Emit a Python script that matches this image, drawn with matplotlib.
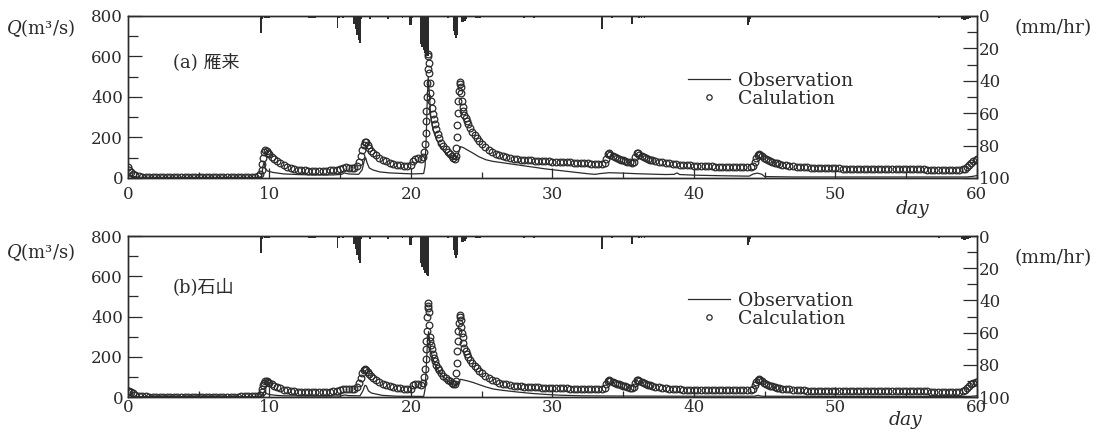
import numpy as np
import matplotlib
matplotlib.use("Agg")
import matplotlib.pyplot as plt
from matplotlib.ticker import MultipleLocator

plt.rcParams['font.family'] = ['DejaVu Serif', 'Noto Sans CJK JP']
plt.rcParams['mathtext.fontset'] = 'dejavuserif'

# simulation output times (day) shared by both stations
calc_day = [
    0.0, 0.1, 0.2, 0.35, 0.5, 0.75, 1.0, 1.25,
    1.5, 1.75, 2.0, 2.25, 2.5, 2.75, 3.0, 3.25, 3.5, 3.75,
    4.0, 4.25, 4.5, 4.75, 5.0, 5.25, 5.5, 5.75, 6.0, 6.25,
    6.5, 6.75, 7.0, 7.25, 7.5, 7.75, 8.0, 8.25, 8.5, 8.75,
    9.0, 9.2, 9.35, 9.45, 9.5, 9.55, 9.6, 9.7, 9.8, 9.9,
    10.0, 10.15, 10.3, 10.5, 10.75, 11.0, 11.25, 11.5, 11.75, 12.0,
    12.25, 12.5, 12.75, 13.0, 13.25, 13.5, 13.75, 14.0, 14.25, 14.5,
    14.75, 15.0, 15.2, 15.4, 15.6, 15.8, 16.0, 16.2, 16.35, 16.45,
    16.55, 16.65, 16.75, 16.85, 16.95, 17.05, 17.2, 17.35, 17.5, 17.75,
    18.0, 18.25, 18.5, 18.75, 19.0, 19.25, 19.5, 19.75, 20.0, 20.15,
    20.3, 20.5, 20.7, 20.85, 20.95, 21.0, 21.03, 21.06, 21.09, 21.12,
    21.15, 21.18, 21.21, 21.24, 21.27, 21.3, 21.33, 21.37, 21.42, 21.48,
    21.55, 21.62, 21.7, 21.8, 21.9, 22.0, 22.15, 22.3, 22.45, 22.6,
    22.75, 22.9, 23.0, 23.1, 23.15, 23.2, 23.24, 23.28, 23.32, 23.36,
    23.4, 23.44, 23.48, 23.52, 23.56, 23.6, 23.65, 23.7, 23.78, 23.86,
    23.95, 24.05, 24.2, 24.35, 24.5, 24.65, 24.8, 25.0, 25.25, 25.5,
    25.75, 26.0, 26.25, 26.5, 26.75, 27.0, 27.25, 27.5, 27.75, 28.0,
    28.25, 28.5, 28.75, 29.0, 29.25, 29.5, 29.75, 30.0, 30.25, 30.5,
    30.75, 31.0, 31.25, 31.5, 31.75, 32.0, 32.25, 32.5, 32.75, 33.0,
    33.25, 33.5, 33.7, 33.8, 33.9, 34.0, 34.1, 34.25, 34.4, 34.55,
    34.7, 34.85, 35.0, 35.15, 35.3, 35.45, 35.6, 35.75, 35.85, 35.95,
    36.05, 36.15, 36.3, 36.45, 36.6, 36.75, 36.9, 37.05, 37.25, 37.5,
    37.75, 38.0, 38.25, 38.5, 38.75, 39.0, 39.25, 39.5, 39.75, 40.0,
    40.25, 40.5, 40.75, 41.0, 41.25, 41.5, 41.75, 42.0, 42.25, 42.5,
    42.75, 43.0, 43.25, 43.5, 43.75, 44.0, 44.15, 44.3, 44.4, 44.5,
    44.6, 44.7, 44.8, 44.95, 45.1, 45.25, 45.4, 45.55, 45.7, 45.85,
    46.0, 46.25, 46.5, 46.75, 47.0, 47.25, 47.5, 47.75, 48.0, 48.25,
    48.5, 48.75, 49.0, 49.25, 49.5, 49.75, 50.0, 50.25, 50.5, 50.75,
    51.0, 51.25, 51.5, 51.75, 52.0, 52.25, 52.5, 52.75, 53.0, 53.25,
    53.5, 53.75, 54.0, 54.25, 54.5, 54.75, 55.0, 55.25, 55.5, 55.75,
    56.0, 56.25, 56.5, 56.75, 57.0, 57.25, 57.5, 57.75, 58.0, 58.25,
    58.5, 58.75, 59.0, 59.15, 59.3, 59.45, 59.6, 59.75, 59.9, 60.0,
]

# calculated discharge (m3/s), (a) Kariki
calc_a_q = [
    55, 40, 30, 20, 14, 8, 5, 4,
    3, 3, 3, 3, 3, 3, 3, 3, 3, 3,
    3, 3, 3, 3, 3, 3, 3, 3, 3, 3,
    3, 3, 3, 3, 3, 3, 4, 4, 4, 4,
    5, 10, 20, 40, 70, 100, 130, 140, 135, 125,
    118, 105, 95, 85, 72, 62, 54, 48, 44, 40,
    38, 37, 36, 35, 35, 35, 36, 36, 37, 38,
    40, 42, 50, 52, 50, 47, 48, 60, 80, 110,
    140, 165, 180, 178, 165, 150, 135, 122, 112, 100,
    90, 82, 76, 70, 66, 62, 60, 60, 62, 85,
    95, 98, 95, 105, 130, 170, 220, 280, 330, 400,
    470, 540, 610, 600, 570, 520, 470, 420, 380, 345,
    315, 290, 265, 240, 215, 195, 175, 158, 143, 130,
    118, 108, 100, 95, 110, 150, 200, 260, 320, 380,
    430, 465, 475, 450, 420, 380, 350, 330, 310, 295,
    280, 265, 245, 228, 210, 195, 182, 168, 152, 140,
    128, 120, 113, 107, 102, 98, 95, 93, 91, 90,
    88, 87, 86, 85, 84, 83, 82, 80, 80, 79,
    78, 78, 77, 76, 75, 74, 73, 72, 71, 70,
    70, 70, 75, 95, 118, 122, 115, 108, 102, 97,
    93, 90, 87, 84, 80, 77, 76, 80, 105, 125,
    122, 115, 108, 102, 98, 94, 90, 87, 84, 80,
    77, 74, 72, 70, 68, 66, 64, 63, 62, 61,
    60, 60, 59, 58, 57, 56, 56, 56, 55, 55,
    55, 55, 55, 55, 55, 55, 60, 80, 100, 112,
    118, 115, 108, 100, 94, 88, 84, 80, 76, 72,
    69, 65, 62, 60, 58, 56, 55, 54, 52, 51,
    50, 50, 49, 49, 48, 48, 47, 47, 46, 46,
    46, 45, 45, 45, 45, 45, 44, 44, 44, 44,
    44, 43, 43, 43, 43, 43, 43, 42, 42, 42,
    42, 42, 41, 40, 40, 40, 40, 40, 40, 40,
    40, 40, 42, 45, 55, 65, 75, 85, 90, 92,
]

# calculated discharge (m3/s), (b) Ishiyama
calc_b_q = [
    30, 28, 24, 18, 12, 7, 4, 3,
    2, 2, 2, 2, 2, 2, 2, 2, 2, 2,
    2, 2, 2, 2, 2, 2, 2, 2, 2, 2,
    2, 2, 2, 2, 2, 2, 3, 3, 3, 3,
    4, 6, 12, 25, 42, 58, 70, 80, 78, 74,
    70, 63, 57, 50, 43, 37, 33, 30, 28, 27,
    26, 26, 26, 26, 26, 26, 26, 26, 27, 28,
    30, 33, 40, 42, 41, 38, 40, 50, 70, 95,
    120, 135, 140, 135, 125, 115, 102, 92, 84, 73,
    65, 58, 53, 49, 46, 43, 41, 40, 42, 58,
    65, 66, 62, 70, 100, 140, 190, 240, 280, 330,
    400, 440, 465, 450, 420, 360, 300, 280, 260, 240,
    215, 195, 178, 160, 145, 132, 118, 105, 95, 86,
    78, 72, 67, 65, 80, 120, 170, 230, 280, 330,
    370, 400, 405, 385, 350, 320, 300, 270, 245, 228,
    215, 200, 185, 170, 155, 142, 130, 118, 105, 95,
    86, 78, 72, 67, 63, 60, 57, 55, 53, 52,
    51, 50, 49, 48, 47, 46, 46, 45, 44, 44,
    43, 43, 42, 42, 41, 41, 40, 40, 39, 39,
    39, 39, 45, 65, 82, 86, 82, 76, 71, 67,
    63, 60, 57, 54, 50, 47, 45, 50, 72, 86,
    85, 80, 74, 69, 65, 61, 58, 55, 52, 49,
    46, 44, 42, 40, 39, 38, 37, 37, 36, 36,
    36, 36, 36, 35, 35, 35, 35, 35, 35, 35,
    35, 35, 35, 35, 35, 35, 40, 58, 75, 84,
    87, 84, 78, 72, 66, 61, 57, 53, 50, 47,
    45, 42, 40, 38, 37, 35, 34, 33, 32, 31,
    31, 30, 30, 30, 29, 29, 29, 29, 29, 29,
    29, 28, 28, 28, 28, 28, 28, 28, 28, 28,
    28, 28, 28, 28, 28, 28, 28, 28, 28, 28,
    28, 28, 28, 27, 27, 27, 27, 27, 27, 27,
    27, 27, 30, 36, 45, 55, 63, 70, 74, 75,
]

# observed discharge (m3/s)
obs_a_day = [
    0.0, 0.3, 0.8, 2.0, 9.3, 9.45, 9.55, 9.62, 9.7, 9.85,
    10.2, 10.6, 11.0, 12.0, 13.0, 14.5, 15.1, 15.3, 15.6, 16.3,
    16.55, 16.7, 16.8, 16.9, 17.05, 17.3, 17.8, 18.5, 19.5, 20.1,
    20.9, 21.0, 21.08, 21.15, 21.22, 21.3, 21.4, 21.55, 21.75, 22.0,
    22.3, 22.6, 23.0, 23.2, 23.35, 23.5, 23.7, 24.0, 24.4, 24.8,
    25.3, 25.8, 26.5, 27.5, 28.5, 29.5, 30.5, 31.5, 32.5, 33.0,
    33.4, 34.0, 35.0, 36.0, 37.0, 38.0, 38.6, 38.8, 39.0, 40.0,
    42.0, 43.9, 44.2, 44.5, 44.8, 45.0, 47.0, 52.0, 56.0, 59.3,
    59.7, 60.0,
]
obs_a_q = [
    12, 8, 4, 3, 3, 10, 60, 78, 50, 35,
    28, 24, 20, 17, 15, 15, 18, 25, 20, 18,
    40, 85, 100, 75, 50, 40, 30, 25, 22, 20,
    22, 60, 200, 380, 500, 420, 300, 240, 200, 165,
    135, 115, 95, 92, 120, 155, 150, 138, 122, 105,
    90, 82, 75, 65, 55, 45, 37, 29, 21, 18,
    22, 26, 24, 21, 19, 17, 18, 25, 17, 14,
    11, 9, 20, 24, 18, 7, 5, 5, 5, 5,
    8, 12,
]

obs_b_day = [
    0.0, 0.3, 0.8, 9.4, 9.55, 9.65, 9.75, 10.0, 10.5, 11.0,
    13.0, 15.0, 15.3, 15.6, 16.4, 16.6, 16.75, 16.85, 17.0, 17.2,
    17.5, 18.0, 19.0, 20.9, 21.0, 21.08, 21.15, 21.25, 21.32, 21.4,
    21.55, 21.75, 22.0, 22.3, 22.6, 23.0, 23.2, 23.35, 23.5, 23.7,
    24.0, 24.4, 24.8, 25.3, 25.8, 26.5, 27.5, 28.5, 29.5, 30.5,
    32.0, 34.0, 40.0, 44.3, 44.5, 44.8, 50.0, 59.5, 60.0,
]
obs_b_q = [
    8, 5, 2, 2, 15, 30, 18, 12, 8, 6,
    5, 5, 10, 7, 6, 30, 58, 55, 30, 20,
    15, 8, 4, 3, 40, 140, 250, 325, 280, 230,
    190, 155, 125, 100, 80, 60, 56, 75, 88, 85,
    80, 72, 62, 50, 40, 33, 25, 18, 13, 9,
    6, 5, 4, 4, 8, 4, 3, 3, 6,
]

# rainfall intensity (mm/hr)
rain_day = [
    9.4, 9.5, 9.7, 9.8, 9.9, 10.0, 12.8, 12.9, 13.0, 13.1,
    13.2, 14.8, 14.9, 15.2, 16.0, 16.1, 16.2, 16.3, 16.4, 16.5,
    17.1, 18.4, 19.4, 19.9, 20.0, 20.1, 20.7, 20.8, 20.9, 21.0,
    21.1, 21.2, 22.6, 23.0, 23.1, 23.2, 23.3, 23.6, 23.7, 23.8,
    23.9, 24.6, 24.7, 24.8, 24.9, 28.0, 28.7, 33.5, 34.2, 35.6,
    36.1, 36.3, 36.5, 43.8, 43.9, 44.0, 57.3, 58.9, 59.0, 59.1,
    59.2, 59.3, 59.4, 59.5,
]
rain_mm = [
    10.5, 2, 1.5, 1.5, 1.5, 1.5, 1.5, 1.5, 1.5, 1.5,
    1.5, 7.5, 1.5, 1, 5, 8, 12, 15, 16.5, 2,
    2, 2, 1.5, 5.5, 5.5, 1.5, 17, 19, 21, 23,
    24.5, 25, 1.5, 9, 12, 13.5, 12, 4, 3.5, 3,
    2, 1.5, 1.5, 1.5, 1, 1, 1, 8, 1.5, 5,
    1.5, 1.5, 1.5, 5.5, 4, 2, 1.5, 2, 2, 2.5,
    2.5, 2, 2, 1.5,
]

ink = '#2b2b2b'


def draw_panel(ax, calc_q, obs_day, obs_q, tag, calc_name, legend_y, tag_y, xpad):
    ax.plot(obs_day, obs_q, color=ink, lw=0.9, label='Observation', zorder=3)
    ax.plot(calc_day, calc_q, 'o', ms=4.8, mfc='none', mec=ink, mew=0.9,
            label=calc_name, zorder=4)
    ax.set_xlim(0, 60)
    ax.set_ylim(0, 800)
    ax.xaxis.set_major_locator(MultipleLocator(10))
    ax.xaxis.set_minor_locator(MultipleLocator(5))
    ax.yaxis.set_major_locator(MultipleLocator(200))
    ax.yaxis.set_minor_locator(MultipleLocator(100))
    ax.tick_params(axis='y', which='major', direction='in', length=10, width=0.9,
                   pad=3.5, labelsize=12, colors=ink)
    ax.tick_params(axis='y', which='minor', direction='in', length=7, width=0.9, colors=ink)
    ax.tick_params(axis='x', which='major', direction='in', length=7, width=0.9,
                   pad=xpad, labelsize=12, colors=ink)
    ax.tick_params(axis='x', which='minor', direction='in', length=4, width=0.9, colors=ink)
    for sp in ax.spines.values():
        sp.set_linewidth(1.0)
        sp.set_color(ink)

    ax.text(0.053, tag_y, tag, transform=ax.transAxes, va='center', ha='left',
            fontsize=13, color=ink)
    ax.legend(loc='upper left', bbox_to_anchor=(0.66, legend_y), frameon=False,
              handlelength=2.2, handletextpad=0.45, labelspacing=0.0,
              borderpad=0, borderaxespad=0, fontsize=13.5, markerscale=0.8,
              labelcolor=ink)

    # rainfall hangs from the top of the frame
    rain = ax.twinx()
    rain.bar(rain_day, rain_mm, width=0.12, color=ink, linewidth=0)
    rain.set_ylim(100, 0)
    rain.yaxis.set_major_locator(MultipleLocator(20))
    rain.yaxis.set_minor_locator(MultipleLocator(10))
    rain.tick_params(axis='y', which='major', direction='in', length=10, width=0.9,
                     pad=1.5, labelsize=12, colors=ink)
    rain.tick_params(axis='y', which='minor', direction='in', length=7, width=0.9, colors=ink)
    for sp in rain.spines.values():
        sp.set_linewidth(1.0)
        sp.set_color(ink)
    return rain


fig = plt.figure(figsize=(11.03, 4.32), dpi=100)
ax_a = fig.add_axes([0.116, 0.588, 0.7697, 0.375])
ax_b = fig.add_axes([0.116, 0.081, 0.7697, 0.3727])

draw_panel(ax_a, calc_a_q, obs_a_day, obs_a_q, '(a) 雁来', 'Calulation', 0.655, 0.716, 6)
draw_panel(ax_b, calc_b_q, obs_b_day, obs_b_q, '(b)石山', 'Calculation', 0.655, 0.683, 1.5)

for y in (0.935, 0.417):
    fig.text(0.037, y, '$Q$(m³/s)', ha='center', va='center', fontsize=13, color=ink)
fig.text(0.920, 0.935, '(mm/hr)', ha='left', va='center', fontsize=13.5, color=ink)
fig.text(0.920, 0.403, '(mm/hr)', ha='left', va='center', fontsize=13.5, color=ink)
fig.text(0.827, 0.516, 'day', ha='center', va='center', fontsize=13.5,
         fontstyle='italic', color=ink)
fig.text(0.821, 0.028, 'day', ha='center', va='center', fontsize=13.5,
         fontstyle='italic', color=ink)

fig.savefig('out.png', dpi=100, facecolor='white')
